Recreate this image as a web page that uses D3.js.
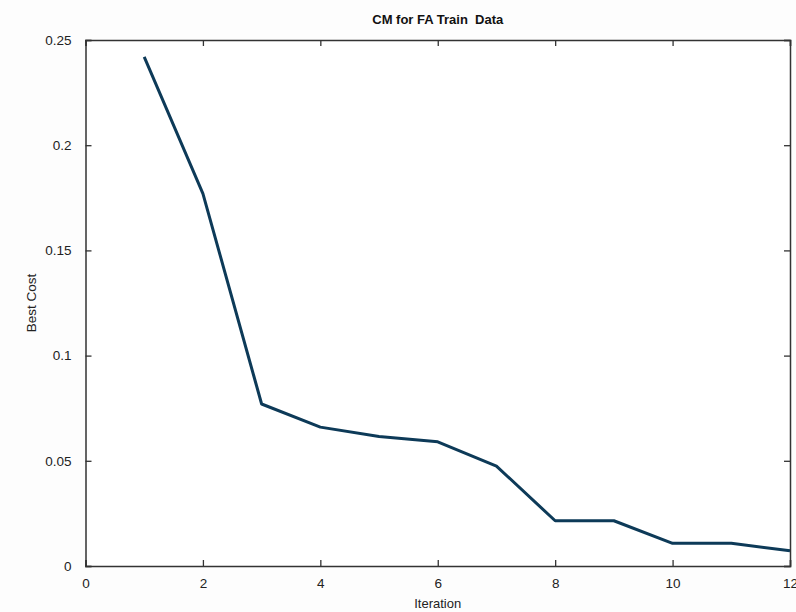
<!DOCTYPE html>
<html><head><meta charset="utf-8">
<script src="https://cdn.jsdelivr.net/npm/d3@7"></script>
<style>body{margin:0;background:#fff;}svg{display:block;}text{font-family:"Liberation Sans",Arial,sans-serif;}</style>
</head><body>
<svg id="c" width="796" height="612"></svg>
<script>
const iterations = [1,2,3,4,5,6,7,8,9,10,11,12];
const bestCost = [0.242,0.177,0.077,0.066,0.0615,0.059,0.0475,0.0215,0.0215,0.0108,0.0108,0.0072];
const xTicks = [0,2,4,6,8,10,12];
const yTicks = [0,0.05,0.1,0.15,0.2,0.25];
const yTickLabels = ["0","0.05","0.1","0.15","0.2","0.25"];

const svg = d3.select("#c");
const m = {l:85.5, r:790, t:40, b:566};
const x = d3.scaleLinear().domain([0,12]).range([m.l,m.r]);
const y = d3.scaleLinear().domain([0,0.25]).range([m.b,m.t]);

svg.append("rect").attr("width",796).attr("height",612).attr("fill","#fdfdfd");
svg.append("rect").attr("x",m.l).attr("y",m.t).attr("width",m.r-m.l).attr("height",m.b-m.t).attr("fill","#ffffff");

const tickLen = 6;
const xb = svg.append("g").attr("transform",`translate(0,${m.b})`)
  .call(d3.axisBottom(x).tickValues(xTicks).tickSize(-tickLen).tickPadding(12).tickFormat(d3.format("d")));
const xt = svg.append("g").attr("transform",`translate(0,${m.t})`)
  .call(d3.axisTop(x).tickValues(xTicks).tickSize(-tickLen).tickFormat(""));
const yl = svg.append("g").attr("transform",`translate(${m.l},0)`)
  .call(d3.axisLeft(y).tickValues(yTicks).tickSize(-tickLen).tickPadding(14).tickFormat((d,i)=>yTickLabels[i]));
const yr = svg.append("g").attr("transform",`translate(${m.r},0)`)
  .call(d3.axisRight(y).tickValues(yTicks).tickSize(-tickLen).tickFormat(""));

[xb,xt,yl,yr].forEach(g=>{
  g.select(".domain").attr("stroke","#333").attr("stroke-width",1.5);
  g.selectAll(".tick line").attr("stroke","#333").attr("stroke-width",1.3);
  g.selectAll(".tick text").attr("fill","#222").style("font-size","13.5px").style("font-family","'Liberation Sans',Arial,sans-serif");
});

const line = d3.line().x((d,i)=>x(iterations[i])).y(d=>y(d));
svg.append("path").datum(bestCost).attr("d",line)
  .attr("fill","none").attr("stroke","#0d3a58").attr("stroke-width",3).attr("stroke-linejoin","round");

svg.append("text").attr("x",(m.l+m.r)/2).attr("y",24).attr("text-anchor","middle")
  .style("font-size","13px").style("font-weight","bold").style("white-space","pre").attr("fill","#111").text("CM for FA Train  Data");
svg.append("text").attr("x",(m.l+m.r)/2).attr("y",608).attr("text-anchor","middle")
  .style("font-size","13px").attr("fill","#222").text("Iteration");
svg.append("text").attr("transform",`translate(36,${(m.t+m.b)/2}) rotate(-90)`).attr("text-anchor","middle")
  .style("font-size","13.5px").attr("fill","#222").text("Best Cost");
</script>
</body></html>
